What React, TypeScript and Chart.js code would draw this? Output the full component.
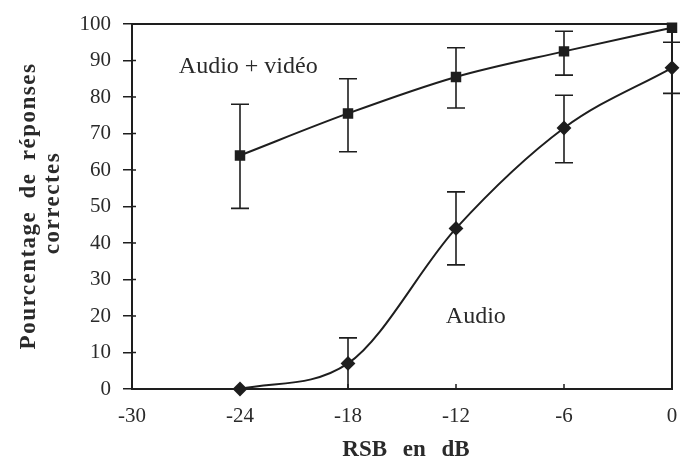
import React, { useEffect, useRef } from "react";
import { Chart, registerables } from "chart.js";

Chart.register(...registerables);

const snr = [-24, -18, -12, -6, 0];
const avMean = [64, 75.5, 85.5, 92.5, 99];
const avLow = [49.5, 65, 77, 86, 99];
const avHigh = [78, 85, 93.5, 98, 99];
const audioMean = [0, 7, 44, 71.5, 88];
const audioLow = [0, 0, 34, 62, 81];
const audioHigh = [0, 14, 54, 80.5, 95];
const yTicks = [0, 10, 20, 30, 40, 50, 60, 70, 80, 90, 100];
const xTicks = [-30, -24, -18, -12, -6, 0];
const avLabel = "Audio + vidéo";
const audioLabel = "Audio";
const yTitle = ["Pourcentage de réponses", "correctes"];
const xTitle = "RSB en dB";

const INK = "#1e1e1e";
const TEXT = "#2a2a2a";
const SERIF = "'Liberation Serif', 'DejaVu Serif', serif";

const errLows = [avLow, audioLow];
const errHighs = [avHigh, audioHigh];

const decor = {
  id: "decor",
  afterDatasetsDraw(chart: any) {
    const ctx = chart.ctx;
    const xs = chart.scales.x;
    const ys = chart.scales.y;
    const area = chart.chartArea;
    ctx.save();
    // frame
    ctx.strokeStyle = INK;
    ctx.lineWidth = 2;
    ctx.strokeRect(area.left, area.top, area.right - area.left, area.bottom - area.top);
    // inner tick marks
    ctx.lineWidth = 1.5;
    ctx.beginPath();
    for (const v of yTicks) {
      const y = ys.getPixelForValue(v);
      ctx.moveTo(area.left, y);
      ctx.lineTo(area.left + 4, y);
    }
    for (const v of xTicks) {
      const x = xs.getPixelForValue(v);
      ctx.moveTo(x, area.bottom);
      ctx.lineTo(x, area.bottom - 5);
    }
    ctx.stroke();
    // error bars
    ctx.lineWidth = 1.6;
    for (let d = 0; d < 2; d++) {
      const lows = errLows[d];
      const highs = errHighs[d];
      for (let i = 0; i < snr.length; i++) {
        if (highs[i] - lows[i] < 0.5) continue;
        const x = xs.getPixelForValue(snr[i]);
        const y1 = ys.getPixelForValue(lows[i]);
        const y2 = ys.getPixelForValue(highs[i]);
        ctx.beginPath();
        ctx.moveTo(x, y1);
        ctx.lineTo(x, y2);
        if (lows[i] > 0.5) {
          ctx.moveTo(x - 9, y1);
          ctx.lineTo(x + 9, y1);
        }
        ctx.moveTo(x - 9, y2);
        ctx.lineTo(x + 9, y2);
        ctx.stroke();
      }
    }
    // in-plot labels
    ctx.fillStyle = TEXT;
    ctx.font = `24px ${SERIF}`;
    ctx.textBaseline = "middle";
    ctx.textAlign = "left";
    ctx.fillText(avLabel, xs.getPixelForValue(-27.4), ys.getPixelForValue(88.3));
    ctx.textAlign = "center";
    ctx.fillText(audioLabel, xs.getPixelForValue(-10.9), ys.getPixelForValue(19.7));
    // axis titles
    ctx.font = `bold 23px ${SERIF}`;
    (ctx as any).letterSpacing = "1.5px";
    (ctx as any).wordSpacing = "5px";
    ctx.save();
    ctx.translate(29, 206);
    ctx.rotate(-Math.PI / 2);
    ctx.fillText(yTitle[0], 0, 0);
    ctx.restore();
    ctx.save();
    ctx.translate(53, 203);
    ctx.rotate(-Math.PI / 2);
    ctx.fillText(yTitle[1], 0, 0);
    ctx.restore();
    (ctx as any).letterSpacing = "0px";
    (ctx as any).wordSpacing = "10px";
    ctx.fillText(xTitle, 406, 450);
    ctx.restore();
  },
};

export default function App() {
  const ref = useRef<HTMLCanvasElement>(null);
  useEffect(() => {
    if (!ref.current) return;
    const chart = new Chart(ref.current, {
      type: "line",
      data: {
        datasets: [
          {
            label: avLabel,
            data: snr.map((x, i) => ({ x, y: avMean[i] })),
            borderColor: INK,
            backgroundColor: INK,
            borderWidth: 2,
            pointStyle: "rect",
            pointRadius: 6,
            cubicInterpolationMode: "monotone",
          },
          {
            label: audioLabel,
            data: snr.map((x, i) => ({ x, y: audioMean[i] })),
            borderColor: INK,
            backgroundColor: INK,
            borderWidth: 2,
            pointStyle: "rectRot",
            pointRadius: 6,
            cubicInterpolationMode: "monotone",
          },
        ],
      },
      options: {
        animation: false,
        responsive: false,
        clip: false as any,
        layout: { padding: { top: 24, right: 8, left: 0, bottom: 0 } },
        plugins: { legend: { display: false }, tooltip: { enabled: false } },
        scales: {
          x: {
            type: "linear",
            min: -30,
            max: 0,
            afterBuildTicks: (s: any) => {
              s.ticks = xTicks.map((v) => ({ value: v }));
            },
            afterFit: (s: any) => {
              s.height = 71;
              s.paddingLeft = 0;
              s.paddingRight = 0;
            },
            grid: { drawOnChartArea: false, drawTicks: false },
            border: { color: INK, width: 2 },
            ticks: {
              color: TEXT,
              font: { family: SERIF, size: 21 },
              padding: 15,
              maxRotation: 0,
              autoSkip: false,
            },
          },
          y: {
            type: "linear",
            min: 0,
            max: 100,
            afterBuildTicks: (s: any) => {
              s.ticks = yTicks.map((v) => ({ value: v }));
            },
            afterFit: (s: any) => {
              s.width = 132;
              s.paddingTop = 0;
              s.paddingBottom = 0;
            },
            grid: { drawOnChartArea: false, drawTicks: true, tickLength: 9, color: INK, lineWidth: 1.5 },
            border: { color: INK, width: 2 },
            ticks: {
              color: TEXT,
              font: { family: SERIF, size: 21 },
              padding: 12,
              autoSkip: false,
            },
          },
        },
      },
      plugins: [decor],
    });
    return () => chart.destroy();
  }, []);
  return (
    <div style={{ position: "fixed", left: 0, top: 0, width: 680, height: 460, background: "#fff" }}>
      <canvas ref={ref} width={680} height={460} />
    </div>
  );
}
